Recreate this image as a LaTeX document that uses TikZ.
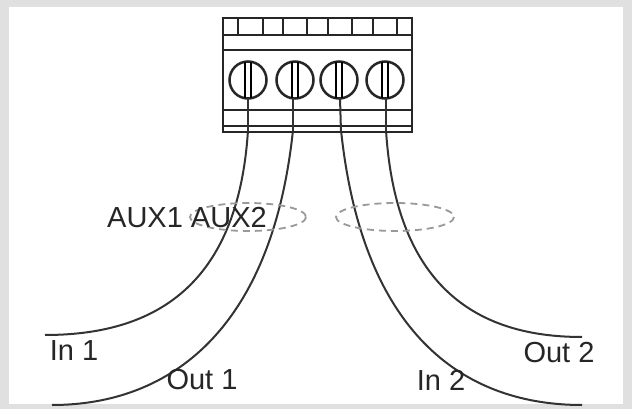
\documentclass[tikz,border=0pt]{standalone}
\usepackage{fontspec}
\setmainfont{Liberation Sans}
\begin{document}
\begin{tikzpicture}[x=1pt,y=-1pt,
  wire/.style={line width=2pt,draw=black!80},
  lbl/.style={font=\fontsize{29}{29}\selectfont,text=black!85,inner sep=0},
  blk/.style={line width=2pt,draw=black!85},
  aux/.style={line width=1.8pt,draw=black!40,dash pattern=on 7pt off 5pt}]
\fill[black!12] (0,0) rectangle (632,409);
\fill[white] (9,7) rectangle (623,404);
\useasboundingbox (0,0) rectangle (632,409);
% wires
\coordinate (w1) at (248,100);\coordinate (w2) at (293,100);
\coordinate (w3) at (340,100);\coordinate (w4) at (386,100);
\coordinate (e1) at (45,335);\coordinate (e2) at (52,405);
\coordinate (e3) at (582,405);\coordinate (e4) at (582,337);
\draw[wire] (w1) -- (248,130) .. controls (238,290) and (150,335) .. (e1);
\draw[wire] (w2) -- (293,130) .. controls (272,330) and (170,405) .. (e2);
\draw[wire] (w3) -- (341,130) .. controls (362,330) and (460,405) .. (e3);
\draw[wire] (w4) -- (386,130) .. controls (396,290) and (480,337) .. (e4);
% terminal block
\fill[white] (223,18) rectangle (412,132);
\draw[blk] (223,18) rectangle (412,132);
\draw[blk] (223,35) -- (412,35);
\draw[blk] (223,50) -- (412,50);
\draw[blk] (223,110) -- (412,110);
\draw[blk] (223,126) -- (412,126);
\foreach \x in {238,263,283,307,328,352,373,397} \draw[blk] (\x,18) -- (\x,35);
\foreach \x/\n in {248/s1,295/s2,339/s3,385/s4}{
  \node[circle,draw=black!85,line width=2.5pt,minimum size=37pt,inner sep=0,fill=white] (\n) at (\x,80) {};
  \draw[line width=1.6pt] (\x-3,62) -- (\x-3,98) (\x+3,62) -- (\x+3,98);
}
\draw[wire] (248,98) -- (248,132);\draw[wire] (293,98) -- (293,132);
\draw[wire] (340,98) -- (341,132);\draw[wire] (386,98) -- (386,132);
% aux rings
\draw[aux] (248,217) ellipse (58 and 14);
\draw[aux] (395,217) ellipse (59 and 14);
\node[lbl,anchor=west] (aux) at (107,218) {AUX1 AUX2};
\node[lbl] (in1) at (74,351) {In 1};
\node[lbl] (out1) at (202,380) {Out 1};
\node[lbl] (in2) at (441,380) {In 2};
\node[lbl] (out2) at (559,353) {Out 2};
\end{tikzpicture}
\end{document}
